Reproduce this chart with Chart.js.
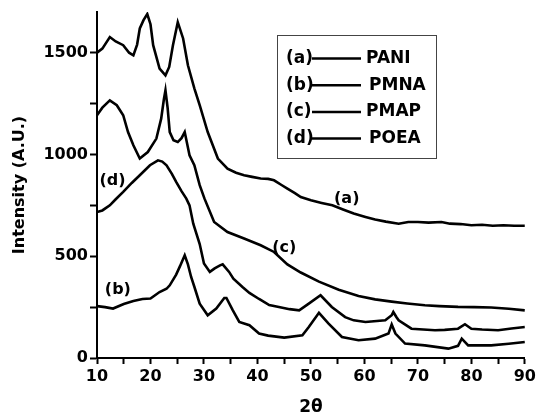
<!DOCTYPE html>
<html>
<head>
<meta charset="utf-8">
<script src="https://cdn.jsdelivr.net/npm/chart.js@4/dist/chart.umd.min.js"></script>
<style>
  html, body { margin: 0; padding: 0; background: #fff; }
  #xrd { display: block; }
</style>
</head>
<body>
<canvas id="xrd" width="539" height="418"></canvas>
<script>
// XRD patterns: 2-theta (deg) and intensity (A.U.)
const seriesNames = ['PANI', 'PMNA', 'PMAP', 'POEA'];
const seriesTags = ['(a)', '(b)', '(c)', '(d)'];

const angA = [10, 11, 12.4, 13.5, 14.9, 16, 16.8, 17.5, 18, 18.7, 19.4, 20, 20.5, 21.7, 22.8, 23.5, 24.2, 25.1, 26.1, 27, 28.2, 29.2, 30.7, 32.6, 34.4, 36, 37.5, 39, 40.6, 42, 43.1, 44.5, 45.6, 47, 48.1, 50, 52, 54, 56, 58, 60.2, 62, 64, 66.4, 68.2, 70, 72, 74.4, 76, 78, 80, 82, 84, 86, 88, 90];
const valA = [1500, 1520, 1577, 1555, 1537, 1500, 1487, 1540, 1619, 1660, 1690, 1640, 1537, 1422, 1389, 1430, 1537, 1650, 1570, 1438, 1325, 1242, 1110, 980, 930, 910, 898, 890, 882, 880, 873, 850, 832, 810, 791, 775, 762, 750, 730, 710, 693, 680, 670, 660, 668, 668, 665, 668, 660, 658, 652, 655, 650, 652, 650, 650];

const angB = [10, 11.5, 13, 15, 16.8, 18.5, 20, 21.7, 23, 23.6, 24.8, 25.5, 26.4, 27, 27.6, 28.2, 29.2, 30.7, 32.3, 33.8, 34.2, 35.4, 36.6, 38.5, 40.3, 42, 45, 48.4, 49.6, 51.5, 53.3, 55.8, 58.9, 62, 64.5, 65.1, 65.8, 67.6, 71.3, 75.7, 77.5, 78.2, 79.4, 83.7, 87, 90];
const valB = [255, 250, 243, 265, 280, 290, 292, 324, 340, 357, 410, 450, 505, 460, 398, 350, 267, 210, 243, 295, 295, 234, 177, 161, 120, 110, 100, 112, 152, 222, 169, 103, 87, 95, 120, 165, 120, 71, 62, 46, 60, 95, 62, 62, 70, 79];

const angC = [10, 11, 12.4, 13.7, 14.9, 15.8, 16.8, 18, 19.5, 21.1, 22, 22.5, 22.8, 23.2, 23.6, 24.3, 25.1, 25.8, 26.4, 27.3, 28.2, 29.2, 30.1, 31.9, 34.4, 37.5, 40.6, 43.1, 45.6, 48.1, 51.5, 55.2, 58.9, 62, 65.1, 68, 71.3, 74, 77.5, 80.5, 83.7, 87, 90];
const valC = [1193, 1230, 1266, 1242, 1193, 1110, 1045, 980, 1012, 1078, 1176, 1270, 1315, 1230, 1110, 1070, 1061, 1080, 1110, 996, 947, 849, 783, 668, 619, 587, 554, 521, 460, 420, 375, 335, 305, 288, 277, 268, 259, 255, 251, 250, 248, 242, 234];

const angD = [10, 11, 12.4, 13.5, 14.9, 16.5, 18, 19.9, 21.4, 22.2, 23, 24, 24.8, 25.8, 26.7, 27.3, 28, 29.2, 30, 31.1, 32, 33, 33.5, 34.7, 35.5, 37.2, 38.5, 40.3, 42.2, 44, 46, 47.8, 49.6, 51.8, 53.9, 56.4, 58, 60.2, 63.9, 65.1, 65.4, 66, 66.4, 68.8, 71, 73.2, 75, 77.5, 78.8, 80, 82, 85, 87.5, 90];
const valD = [717, 725, 750, 780, 816, 860, 898, 947, 971, 965, 947, 905, 865, 820, 783, 750, 660, 560, 464, 423, 440, 455, 460, 423, 390, 349, 320, 290, 260, 251, 240, 234, 267, 308, 251, 201, 185, 177, 185, 210, 226, 200, 185, 144, 140, 136, 138, 144, 166, 144, 140, 136, 145, 152];

// where the (a)..(d) tags sit, in data units
const tagAngle = [56.7, 13.9, 45.0, 12.9];
const tagValue = [780, 336, 540, 868];

const yTicks = [0, 250, 500, 750, 1000, 1250, 1500];

function toPoints(xs, ys) {
  return xs.map((x, i) => ({ x: x, y: ys[i] }));
}

const allAngles = [angA, angB, angC, angD];
const allValues = [valA, valB, valC, valD];

const boldFont = { family: 'DejaVu Sans', size: 16, weight: 'bold' };

// legend box + curve tags
const labelPlugin = {
  id: 'xrdLabels',
  afterDatasetsDraw(chart) {
    const ctx = chart.ctx;
    const xs = chart.scales.x, ys = chart.scales.y;
    ctx.save();
    ctx.fillStyle = '#000';
    ctx.font = 'bold 16px "DejaVu Sans"';
    ctx.textAlign = 'center';
    ctx.textBaseline = 'middle';
    seriesTags.forEach((t, i) => {
      ctx.fillText(t, xs.getPixelForValue(tagAngle[i]), ys.getPixelForValue(tagValue[i]));
    });

    // legend
    ctx.strokeStyle = '#444';
    ctx.lineWidth = 1;
    ctx.strokeRect(277.5, 35.5, 159, 123);
    ctx.font = 'bold 17px "DejaVu Sans"';
    ctx.strokeStyle = '#000';
    seriesNames.forEach((name, i) => {
      const y = 58.5 + i * 26.7;
      ctx.textAlign = 'left';
      ctx.fillText(seriesTags[i], 286, y);
      ctx.beginPath();
      ctx.lineWidth = 2.5;
      ctx.moveTo(312, y);
      ctx.lineTo(361, y);
      ctx.stroke();
      ctx.fillText(name, (i === 1 || i === 3) ? 369 : 366, y);
    });
    ctx.restore();
  }
};

new Chart(document.getElementById('xrd'), {
  type: 'line',
  data: {
    datasets: seriesNames.map((name, i) => ({
      label: name,
      data: toPoints(allAngles[i], allValues[i]),
      borderColor: '#000',
      borderWidth: 2.6,
      pointRadius: 0,
      tension: 0,
      fill: false
    }))
  },
  options: {
    responsive: false,
    animation: false,
    layout: { padding: { top: 12, right: 12, bottom: 0, left: 0 } },
    plugins: { legend: { display: false }, tooltip: { enabled: false } },
    scales: {
      x: {
        type: 'linear',
        min: 10,
        max: 90,
        border: { color: '#000', width: 2 },
        grid: { drawOnChartArea: false, color: '#000', tickLength: 6, tickWidth: 2, tickColor: '#000' },
        ticks: {
          stepSize: 5,
          autoSkip: false,
          maxRotation: 0,
          padding: 3,
          color: '#000',
          font: boldFont,
          callback: v => (v % 10 === 0 ? v : '')
        },
        title: { display: true, text: '2θ', color: '#000', font: { family: 'DejaVu Sans', size: 17, weight: 'bold' }, padding: { top: 0, bottom: 0 } },
        afterFit: s => { s.height = 60; }
      },
      y: {
        type: 'linear',
        min: 0,
        max: 1700,
        border: { color: '#000', width: 2 },
        grid: { drawOnChartArea: false, color: '#000', tickLength: 7, tickWidth: 2, tickColor: '#000' },
        afterBuildTicks: s => { s.ticks = yTicks.map(v => ({ value: v })); },
        ticks: {
          padding: 2,
          color: '#000',
          font: boldFont,
          callback: v => (v % 500 === 0 ? v : '')
        },
        title: { display: true, text: 'Intensity (A.U.)', color: '#000', font: { family: 'DejaVu Sans', size: 16, weight: 'bold' }, padding: { top: 10, bottom: 0 } },
        afterFit: s => { s.width = 97; }
      }
    }
  },
  plugins: [labelPlugin]
});
</script>
</body>
</html>
